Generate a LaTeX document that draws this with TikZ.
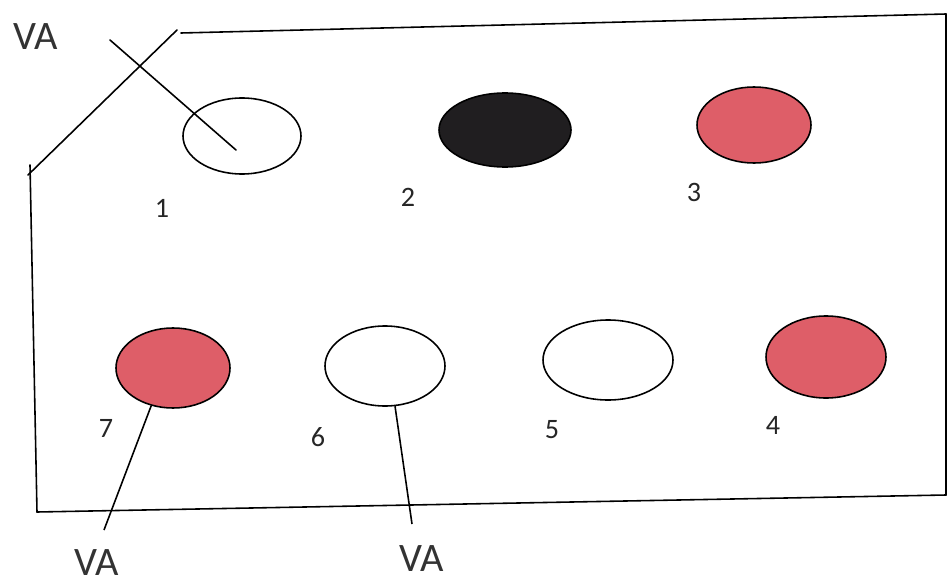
\documentclass[tikz,border=0pt]{standalone}
\usepackage{fontspec}
\setmainfont{Carlito}
\usepackage{tkz-euclide}
\usetikzlibrary{shapes.geometric}
\tikzset{>=stealth}
\definecolor{lampred}{RGB}{222,94,104}
\definecolor{lampdark}{RGB}{32,30,32}
\tikzset{lamp/.style={ellipse, draw, line width=0.9pt, inner sep=0pt},
         num/.style={font=\fontsize{16}{18}\selectfont, text=black!85, inner sep=0pt},
         va/.style={font=\fontsize{23}{26}\selectfont, text=black!80, inner sep=0pt}}

\begin{document}
\begin{tikzpicture}[line width=0.9pt]
    \useasboundingbox (0,0) rectangle (18.96,11.68);
    % outline of the board
    \tkzDefPoints{0.56/8.18/D, 3.54/11.08/E, 3.62/11.02/T, 18.92/11.40/R}
    \tkzDefPoints{0.60/8.38/L, 0.74/1.44/B, 18.92/1.78/S}
    \tkzDefPoints{2.20/10.88/X, 4.72/8.68/Y, 2.08/1.08/P, 8.24/1.20/Q}
    \tkzDrawSegments[line width=0.9pt](D,E T,R R,S L,B B,S X,Y)
    % lamps
    \node[lamp, minimum width=2.36cm, minimum height=1.52cm] (e1) at (4.84,8.96) {};
    \node[lamp, fill=lampdark, minimum width=2.64cm, minimum height=1.48cm] (e2) at (10.10,9.08) {};
    \node[lamp, fill=lampred, minimum width=2.28cm, minimum height=1.52cm] (e3) at (15.08,9.18) {};
    \node[lamp, fill=lampred, minimum width=2.40cm, minimum height=1.64cm] (e4) at (16.52,4.54) {};
    \node[lamp, minimum width=2.60cm, minimum height=1.60cm] (e5) at (12.16,4.48) {};
    \node[lamp, minimum width=2.40cm, minimum height=1.60cm] (e6) at (7.70,4.36) {};
    \node[lamp, fill=lampred, minimum width=2.28cm, minimum height=1.60cm] (e7) at (3.46,4.32) {};
    % numbers
    \node[num] (n1) at (3.24,7.52) {1};
    \node[num] (n2) at (8.16,7.74) {2};
    \node[num] (n3) at (13.88,7.84) {3};
    \node[num] (n4) at (15.46,3.18) {4};
    \node[num] (n5) at (11.04,3.08) {5};
    \node[num] (n6) at (6.36,2.94) {6};
    \node[num] (n7) at (2.12,3.12) {7};
    % VA marks
    \node[va] (va1) at (0.72,10.94) {VA};
    \node[va] (va7) at (1.94,0.42) {VA};
    \node[va] (va6) at (8.44,0.50) {VA};
    \draw (e7.240) -- (P);
    \draw (e6.284) -- (Q);
\end{tikzpicture}
\end{document}
